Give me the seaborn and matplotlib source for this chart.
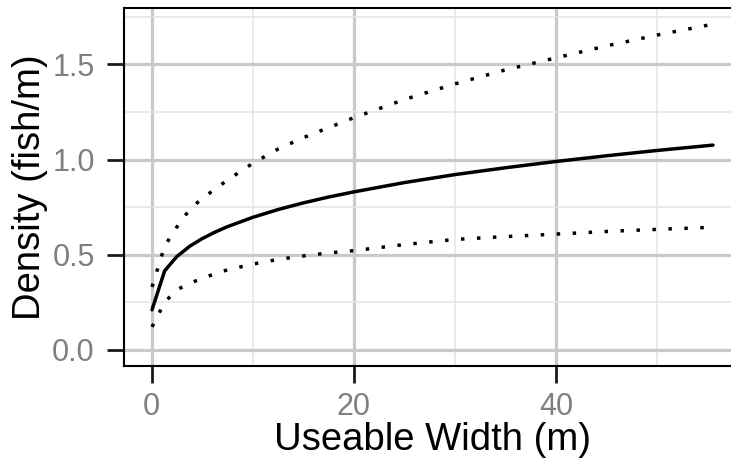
import matplotlib
matplotlib.use("Agg")
import matplotlib.pyplot as plt
from matplotlib.ticker import MultipleLocator
import pandas as pd
import seaborn as sns

# Useable width (m) at which the fitted density curve was evaluated
width_m = [0.05, 1.3, 2.5, 3.8, 5, 6.3, 7.5, 10, 12.5, 15, 17.5, 20,
           25, 30, 35, 40, 45, 50, 55.5]
# Fitted density (fish/m)
density_fit = [0.21, 0.415, 0.49, 0.545, 0.584, 0.619, 0.647, 0.696, 0.737,
               0.772, 0.803, 0.83, 0.879, 0.921, 0.957, 0.99, 1.02, 1.048, 1.076]
# Upper and lower bounds of the interval
density_upper = [0.33, 0.545, 0.645, 0.74, 0.795, 0.845, 0.892, 0.98, 1.055,
                 1.115, 1.168, 1.22, 1.316, 1.398, 1.472, 1.535, 1.598, 1.655, 1.712]
density_lower = [0.12, 0.25, 0.315, 0.35, 0.375, 0.40, 0.42, 0.45, 0.475,
                 0.493, 0.509, 0.521, 0.553, 0.58, 0.595, 0.608, 0.622, 0.633, 0.644]

x_ticks = [0, 20, 40]
y_ticks = [0.0, 0.5, 1.0, 1.5]
y_tick_labels = ["0.0", "0.5", "1.0", "1.5"]

fit = pd.DataFrame({"width": width_m, "density": density_fit})
bounds = pd.DataFrame({
    "width": width_m * 2,
    "density": density_upper + density_lower,
    "bound": ["upper"] * len(width_m) + ["lower"] * len(width_m),
})

sns.set_theme(style="white")
plt.rcParams["font.family"] = ["Liberation Sans", "DejaVu Sans"]

fig = plt.figure(figsize=(7.31, 4.66), dpi=100)
ax = fig.add_axes([124 / 731, 100 / 466, 617 / 731, 358 / 466])

sns.lineplot(data=bounds, x="width", y="density", units="bound",
             estimator=None, color="black", lw=2.5,
             linestyle=(0, (1, 3.6)), ax=ax, sort=False)
sns.lineplot(data=fit, x="width", y="density", color="black", lw=2.5,
             ax=ax, sort=False)

ax.set_xlim(-2.72, 58.27)
ax.set_ylim(-0.0856, 1.797)
ax.set_xticks(x_ticks)
ax.set_yticks(y_ticks)
ax.set_yticklabels(y_tick_labels)
ax.xaxis.set_minor_locator(MultipleLocator(10))
ax.yaxis.set_minor_locator(MultipleLocator(0.25))

ax.grid(which="major", color="#c9c9c9", lw=2.3)
ax.grid(which="minor", color="#e4e4e4", lw=1.1)
ax.set_axisbelow(True)

for side in ["left", "bottom", "top", "right"]:
    ax.spines[side].set_visible(True)
    ax.spines[side].set_color("black")
    ax.spines[side].set_linewidth(1.5)

ax.tick_params(axis="both", which="major", direction="out", length=12,
               width=2.0, color="#1a1a1a", labelsize=22, labelcolor="#7f7f7f",
               bottom=True, left=True)
ax.tick_params(axis="y", which="major", pad=9)
ax.tick_params(axis="x", which="major", pad=6.5)
ax.tick_params(axis="both", which="minor", length=0)

ax.set_xlabel("Useable Width (m)", fontsize=27.5, color="black", labelpad=0)
ax.set_ylabel("Density (fish/m)", fontsize=27.5, color="black", labelpad=3)

fig.savefig("out.png", dpi=100)
